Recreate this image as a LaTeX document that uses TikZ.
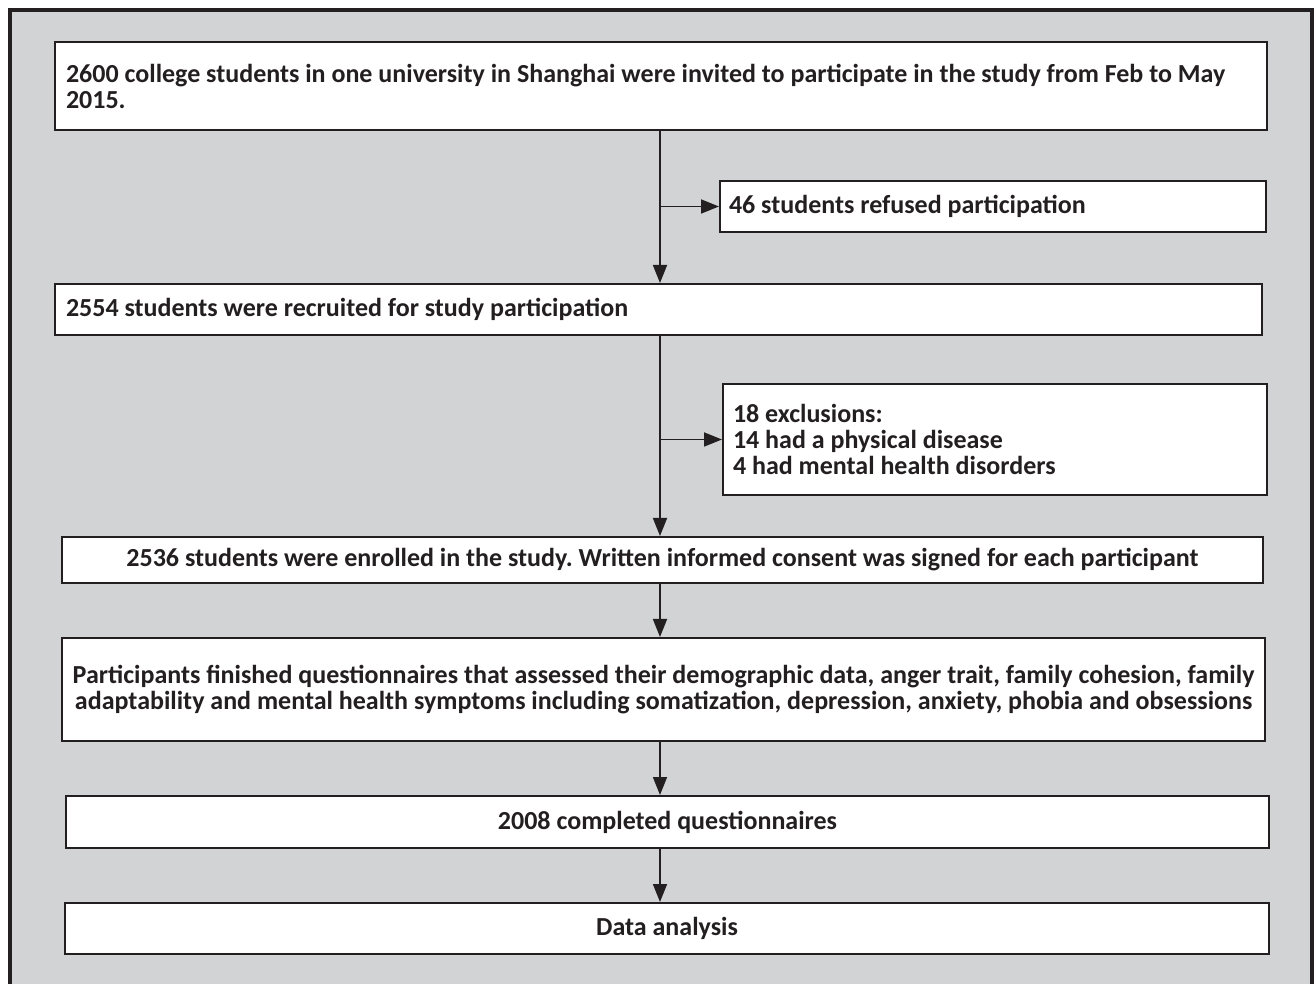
\documentclass[tikz,border=0pt]{standalone}
\usepackage{fontspec}
\setmainfont{Carlito}
\usetikzlibrary{arrows.meta, positioning, calc}
\definecolor{panelgray}{RGB}{209,211,212}
\definecolor{inkblack}{RGB}{35,31,32}

\begin{document}
\begin{tikzpicture}[
  x=0.5pt, y=-0.5pt,
  >={Triangle[length=9pt, width=7pt]},
  flowbox/.style = {draw=inkblack, line width=1pt, fill=white,
                    text=inkblack, anchor=north west,
                    font=\bfseries\fontsize{13}{13}\selectfont,
                    execute at begin node={\frenchspacing\spaceskip=0pt\xspaceskip=0pt\relax},
                    inner xsep=5.5pt, inner ysep=0pt},
  leftbox/.style = {flowbox, align=left},
  midbox/.style  = {flowbox, align=center},
  arr/.style     = {->, line width=0.9pt, draw=inkblack, fill=inkblack},
  frame/.style   = {draw=inkblack, line width=2pt, fill=panelgray},
]

% =============================================
% PANEL
% =============================================
\useasboundingbox (0,0) rectangle (1314,984);
\begin{scope}
  \clip (0,0) rectangle (1314,984);
  \draw[frame] (10,10) rectangle (1312,1000);
\end{scope}

% =============================================
% MAIN COLUMN
% =============================================
\node[leftbox, text width=595pt, minimum height=44pt] (invite) at (54,41)
  {2600 college students in one university in Shanghai were invited to participate in the study from Feb to May\\2015.};
\node[leftbox, text width=592.5pt, minimum height=25.5pt] (recruit) at (54,283)
  {2554 students were recruited for study participation};
\node[midbox, minimum width=600.5pt, minimum height=23pt] (enrol) at (61,536)
  {2536 students were enrolled in the study. Written informed consent was signed for each participant};
\node[midbox, inner xsep=4.5pt, minimum width=601.5pt, minimum height=51.5pt] (survey) at (61,637)
  {Participants finished questionnaires that assessed their demographic data, anger trait, family cohesion, family\\adaptability and mental health symptoms including somatization, depression, anxiety, phobia and obsessions};
\node[midbox, minimum width=601.5pt, minimum height=26pt] (complete) at (65,795)
  {2008 completed questionnaires};
\node[midbox, minimum width=602pt, minimum height=25.5pt] (analysis) at (64,902)
  {Data analysis};

% =============================================
% SIDE BOXES
% =============================================
\node[leftbox, text width=264pt, inner xsep=4.5pt, minimum height=25.5pt] (refuse) at (719,180)
  {46 students refused participation};
\node[leftbox, text width=262pt, inner xsep=5pt, minimum height=55.5pt] (exclude) at (722,383)
  {18 exclusions:\\14 had a physical disease\\4 had mental health disorders};

% =============================================
% ARROWS
% =============================================
\coordinate (spine) at (660,0);
\draw[arr] (spine |- invite.south)   -- (spine |- recruit.north);
\draw[arr] (spine |- refuse.west)    -- (refuse.west);
\draw[arr] (spine |- recruit.south)  -- (spine |- enrol.north);
\draw[arr] (spine |- exclude.west)   -- (exclude.west);
\draw[arr] (spine |- enrol.south)    -- (spine |- survey.north);
\draw[arr] (spine |- survey.south)   -- (spine |- complete.north);
\draw[arr] (spine |- complete.south) -- (spine |- analysis.north);

\end{tikzpicture}
\end{document}
